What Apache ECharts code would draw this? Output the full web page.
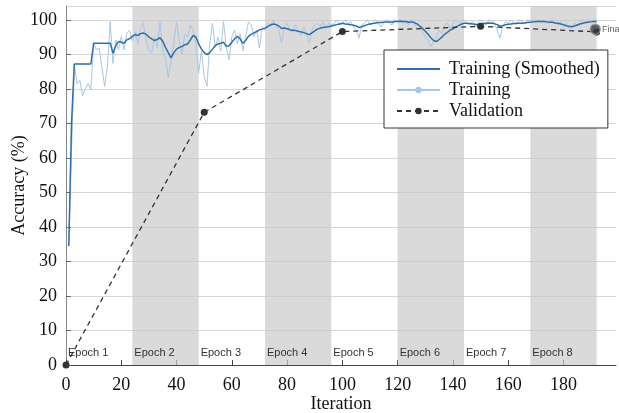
<!DOCTYPE html>
<html>
<head>
<meta charset="utf-8">
<script src="https://cdn.jsdelivr.net/npm/echarts@6/dist/echarts.min.js"></script>
<style>html,body{margin:0;padding:0;background:#fff}#c{width:619px;height:413px}</style>
</head>
<body>
<div id="c"></div>
<script>
const trainRaw = [34.5,62,87,81.5,82.5,78,80,81.6,79.7,93.3,91.3,91.8,86,80.7,86.5,99.5,87.4,94.2,91.3,95.2,
91.3,96.2,97,94,96.5,93,97.5,99,94,91,90.4,95,92,99.3,91,89,83.2,88,93,99.4,
94,90,96,95,98.5,97,93,84.6,91,83.6,80.7,93,99,92,95,91,99.5,92,88.4,95,
97,93,96,91,95,99.4,98.6,95,97,91.8,98,97,99,98.5,100,98,97,93.2,98,99,
97,96.5,98.5,97,95.5,98,96,93.2,97,98.5,99,98,99.5,97.5,99,98.5,99,100,98.5,99,
100,98.5,99.5,98,97,94.7,98.5,99,100,98.5,99,100,99,98,99.5,100,99,98.5,100,99.5,
100,99,99.5,98.5,100,99,97.5,98,96.5,95,94,92.3,93.5,95,97,96,98.5,99,97.5,99,
100,99,99.5,100,99,98.5,99.5,98,99,100,99,98.5,100,99.5,99,97,94.7,98,99.5,99,
100,99,98.5,100,99.5,99,100,99.5,100,99,100,99.5,100,99,99.5,100,99,98.5,99.5,98,
99,97.5,98,99,98.5,99.5,100,99,100,99.5,100,99.5];
const trainSmooth = [34.5,70,87.2,87.2,87.2,87.2,87.2,87.2,87.2,93.2,93.2,93.2,93.2,93.2,93.2,93.2,90.3,92.5,93.7,93.5,
93.2,94.2,94.5,95.2,95.7,95.5,96,96.2,95.8,95,94.5,94,94.3,94.8,93.8,92,90.5,89,90.5,91.5,
92,92.3,92.8,93,94.2,95.5,95,93,91.5,90.5,89.9,90.5,91.5,92.5,93,93.2,93.5,92.3,92.5,93.5,
94.5,95.2,94.5,93.2,94,95.2,95.8,96.2,96.6,97.1,97.3,97.6,98,98.5,98.8,98.6,98.2,97.5,97.6,97.4,
97.1,97,96.9,96.7,96.5,96.3,96,95.7,96.2,96.8,97.3,97.6,97.8,97.9,98,98.2,98.4,98.6,98.8,99,
98.8,98.7,98.6,98.4,98.2,97.8,98,98.3,98.6,98.8,98.9,99.1,99.2,99.2,99.3,99.4,99.4,99.3,99.5,99.5,
99.6,99.5,99.5,99.3,99.4,99.2,98.8,98.2,97.5,96.7,95.8,94.8,94,93.7,94.3,95,95.8,96.4,97,97.4,
97.9,98.3,98.7,99,99,98.9,98.8,98.7,98.6,98.8,98.9,99,99.1,99,98.9,98.6,98.2,98.3,98.6,98.7,
98.8,98.9,99,99,99,99.1,99.2,99.3,99.4,99.5,99.5,99.5,99.5,99.4,99.3,99.3,99.1,99,98.8,98.6,
98.3,98.1,98,98.2,98.5,98.8,99,99.2,99.3,99.4,99.5,99.5];
const valIter = [0,50,100,150,192];
const valAcc = [0,73.2,96.6,98.1,96.5];
const finalPoint = [191.5,97.3];
const epochLabels = ['Epoch 1','Epoch 2','Epoch 3','Epoch 4','Epoch 5','Epoch 6','Epoch 7','Epoch 8'];
const epochStarts = [0,24,48,72,96,120,144,168];
const epochEnds = [24,48,72,96,120,144,168,192];
const xMax = 199;

const iters = trainRaw.map((v,i)=>i+1);
const rawData = trainRaw.map((v,i)=>[iters[i],v]);
const smoothData = trainSmooth.map((v,i)=>[iters[i],v]);
const valData = valIter.map((x,i)=>[x,valAcc[i]]);

const serif = '"Liberation Serif","Times New Roman",serif';
const sans = '"Liberation Sans",Arial,sans-serif';

const chart = echarts.init(document.getElementById('c'));
chart.setOption({
  animation:false,
  backgroundColor:'#fff',
  grid:{left:66,right:3,top:6,bottom:48,containLabel:false,outerBoundsMode:'none'},
  legend:{
    orient:'vertical', left:384, top:50,
    data:[
      {name:'Training (Smoothed)', itemStyle:{color:'rgba(0,0,0,0)',borderColor:'rgba(0,0,0,0)',borderWidth:0}},
      {name:'Training'},
      {name:'Validation'}
    ],
    backgroundColor:'#fff', borderColor:'#333', borderWidth:1,
    padding:[10,8,8,12], itemGap:3, itemWidth:43, itemHeight:8,
    textStyle:{fontFamily:serif,fontSize:18,color:'#111',padding:[0,0,0,4]}
  },
  xAxis:{
    type:'value', min:0, max:xMax, interval:20,
    name:'Iteration', nameLocation:'middle', nameGap:30, nameMoveOverlap:false,
    nameTextStyle:{fontFamily:serif,fontSize:18,color:'#111'},
    axisLine:{lineStyle:{color:'#444',width:1}},
    axisTick:{inside:true,length:5,lineStyle:{color:'#444'}},
    axisLabel:{fontFamily:serif,fontSize:18,color:'#111',margin:11,showMaxLabel:false},
    splitLine:{show:false}
  },
  yAxis:{
    type:'value', min:0, max:104, interval:10,
    name:'Accuracy (%)', nameLocation:'middle', nameGap:38, nameMoveOverlap:false,
    nameTextStyle:{fontFamily:serif,fontSize:18,color:'#111'},
    axisLine:{show:true,lineStyle:{color:'#888',width:1}},
    axisTick:{show:true,inside:true,length:5,lineStyle:{color:'#666'}},
    axisLabel:{fontFamily:serif,fontSize:18,color:'#111',margin:9,showMaxLabel:false},
    splitLine:{show:true,lineStyle:{color:'#d6d6d6',width:1}}
  },
  series:[
    {
      name:'Training', type:'line', data:rawData, symbol:'circle', symbolSize:5, showSymbol:false,
      lineStyle:{color:'#a8c7e6',width:1}, itemStyle:{color:'#a8c7e6'}, z:3,
      markArea:{
        silent:true,
        label:{show:true,position:'insideBottomLeft',formatter:'{b}',offset:[-3,-2],
          fontFamily:sans,fontSize:11,color:'#333'},
        data:epochLabels.map((lab,i)=>[
          {xAxis:epochStarts[i], name:lab,
           itemStyle:{color: i%2===1 ? 'rgba(200,200,200,0.68)' : 'rgba(255,255,255,0)'}},
          {xAxis:epochEnds[i]}
        ])
      }
    },
    {
      name:'Training (Smoothed)', type:'line', data:smoothData, symbol:'none',
      lineStyle:{color:'#2f6ea8',width:1.5}, itemStyle:{color:'#2f6ea8'}, z:4
    },
    {
      name:'Validation', type:'line', data:valData, symbol:'circle', symbolSize:7,
      lineStyle:{color:'#333',width:1.3,type:[5,4]}, itemStyle:{color:'#333'}, z:5
    },
    {
      name:'Final', type:'scatter', data:[finalPoint], symbol:'circle', symbolSize:10,
      itemStyle:{color:'#3a3a3a',borderColor:'#999',borderWidth:1.5}, z:6,
      label:{show:true,position:'right',distance:1,formatter:'Final',fontFamily:sans,fontSize:9,color:'#333'}
    }
  ]
});
</script>
</body>
</html>
